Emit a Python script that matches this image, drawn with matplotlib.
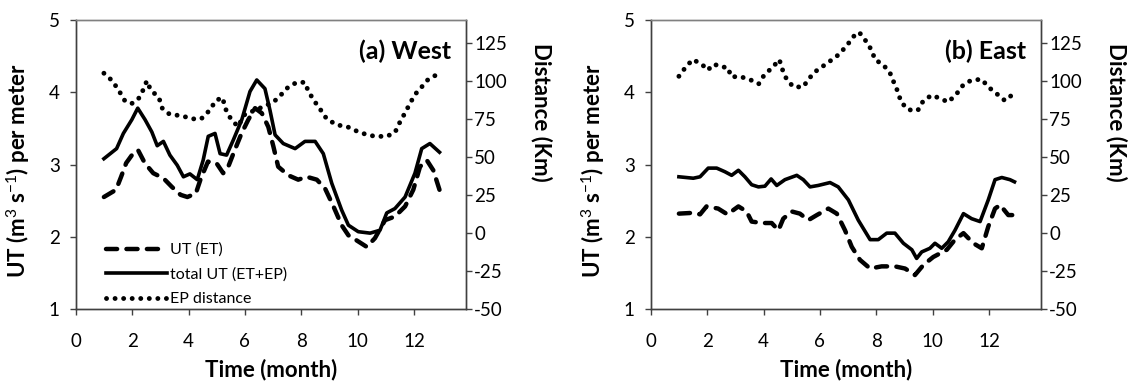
import numpy as np
import matplotlib
matplotlib.use("Agg")
import matplotlib.pyplot as plt

plt.rcParams["font.family"] = ["Lato", "DejaVu Sans"]
plt.rcParams["mathtext.fontset"] = "custom"
plt.rcParams["mathtext.rm"] = "Lato"
plt.rcParams["mathtext.bf"] = "Lato:bold"
plt.rcParams["axes.unicode_minus"] = False

# --- DATA ---
# (a) West
west_ut_month = [1.0, 1.43, 1.61, 1.79, 2.03, 2.21, 2.45, 2.75, 3.11, 3.41, 3.72, 3.96,
                 4.26, 4.44, 4.69, 4.99, 5.23, 5.41, 5.64, 5.88, 6.12, 6.36, 6.60, 6.83,
                 7.01, 7.18, 7.54, 7.89, 8.19, 8.55, 8.84, 9.14, 9.43, 9.67, 9.96, 10.32,
                 10.61, 10.97, 11.32, 11.68, 11.97, 12.21, 12.45, 12.68, 12.9]
west_ut = [2.55, 2.65, 2.83, 3.02, 3.15, 3.20, 3.02, 2.88, 2.81, 2.69, 2.58, 2.55,
           2.60, 2.81, 3.04, 3.02, 2.88, 2.97, 3.20, 3.43, 3.62, 3.78, 3.71, 3.52,
           3.25, 2.97, 2.85, 2.79, 2.83, 2.79, 2.67, 2.42, 2.16, 2.02, 1.95, 1.86,
           1.98, 2.23, 2.28, 2.42, 2.65, 2.97, 3.06, 2.92, 2.65]

west_total_month = [1.0, 1.45, 1.69, 1.99, 2.20, 2.46, 2.70, 2.89, 3.11, 3.34, 3.60, 3.82,
                    4.05, 4.31, 4.52, 4.70, 4.94, 5.12, 5.35, 5.59, 5.89, 6.18, 6.42, 6.71,
                    6.89, 7.07, 7.36, 7.78, 8.13, 8.49, 8.78, 9.08, 9.43, 9.67, 10.02, 10.44,
                    10.79, 11.03, 11.32, 11.68, 12.03, 12.27, 12.56, 12.9]
west_total = [3.08, 3.22, 3.43, 3.62, 3.78, 3.62, 3.45, 3.26, 3.32, 3.13, 2.99, 2.83,
              2.87, 2.79, 3.06, 3.39, 3.43, 3.15, 3.13, 3.34, 3.62, 4.01, 4.17, 4.05,
              3.75, 3.41, 3.29, 3.22, 3.32, 3.32, 3.15, 2.74, 2.37, 2.16, 2.07, 2.05,
              2.09, 2.33, 2.39, 2.55, 2.88, 3.22, 3.29, 3.17]

west_ep_month = [1.0, 1.3, 1.55, 1.74, 1.98, 2.22, 2.42, 2.52, 2.66, 2.95, 3.07, 3.33,
                 3.76, 4.14, 4.45, 4.77, 4.96, 5.21, 5.3, 5.5, 5.75, 6.0, 6.4, 6.77,
                 7.01, 7.24, 7.54, 7.84, 8.13, 8.25, 8.49, 8.72, 8.90, 9.26, 9.61, 9.96,
                 10.26, 10.61, 11.03, 11.32, 11.50, 11.68, 11.85, 12.03, 12.27, 12.50, 12.9]
west_ep = [105, 100, 93, 87, 85, 88, 95, 100, 94, 89, 82, 78,
           77, 75, 75, 81, 87, 89, 82, 75, 70, 78, 81, 84,
           86, 90, 96, 99, 99, 93, 86, 80, 75, 71, 70, 67,
           65, 63.5, 63.5, 66, 73, 79, 85, 91, 96, 101, 105]

# (b) East
east_ut_month = [1.0, 1.45, 1.75, 1.98, 2.39, 2.72, 3.11, 3.40, 3.58, 3.94, 4.29, 4.53,
                 4.70, 5.0, 5.29, 5.59, 5.89, 6.30, 6.60, 6.89, 7.13, 7.42, 7.78, 8.19,
                 8.66, 9.02, 9.37, 9.67, 10.02, 10.50, 10.79, 11.09, 11.44, 11.74, 11.97,
                 12.21, 12.39, 12.68, 12.9]
east_ut = [2.32, 2.33, 2.31, 2.42, 2.39, 2.31, 2.42, 2.35, 2.21, 2.19, 2.19, 2.09,
           2.25, 2.35, 2.32, 2.23, 2.30, 2.39, 2.32, 2.09, 1.86, 1.68, 1.56, 1.59,
           1.59, 1.56, 1.47, 1.61, 1.72, 1.82, 1.96, 2.05, 1.91, 1.84, 2.14,
           2.39, 2.44, 2.30, 2.30]

east_total_month = [1.0, 1.51, 1.75, 2.04, 2.34, 2.63, 2.87, 3.11, 3.34, 3.58, 3.82, 4.05,
                    4.27, 4.47, 4.76, 5.18, 5.41, 5.65, 5.94, 6.36, 6.65, 7.01, 7.36, 7.78,
                    8.07, 8.37, 8.66, 8.96, 9.26, 9.43, 9.61, 9.90, 10.08, 10.32, 10.55,
                    10.79, 11.09, 11.38, 11.68, 11.97, 12.21, 12.45, 12.74, 12.9]
east_total = [2.83, 2.81, 2.83, 2.95, 2.95, 2.90, 2.85, 2.92, 2.83, 2.72, 2.69, 2.70,
              2.80, 2.71, 2.79, 2.85, 2.79, 2.69, 2.71, 2.75, 2.69, 2.51, 2.23, 1.96,
              1.96, 2.05, 2.05, 1.91, 1.82, 1.70, 1.79, 1.84, 1.91, 1.84, 1.93,
              2.09, 2.32, 2.25, 2.21, 2.51, 2.79, 2.82, 2.79, 2.76]

east_ep_month = [1.0, 1.24, 1.49, 1.81, 2.02, 2.24, 2.52, 2.72, 2.87, 3.13, 3.50, 3.83,
                 4.03, 4.33, 4.56, 4.68, 4.82, 5.06, 5.41, 5.59, 5.83, 6.06, 6.36, 6.65,
                 6.95, 7.18, 7.39, 7.60, 7.84, 7.95, 8.25, 8.49, 8.60, 8.76, 8.88, 9.13,
                 9.47, 9.67, 9.96, 10.26, 10.55, 10.85, 11.09, 11.38, 11.74, 11.97, 12.27,
                 12.56, 12.9]
east_ep = [103, 109, 114, 111, 107, 111, 109, 109, 102.5, 103, 101, 98,
           104, 109, 114, 107, 101, 96, 96, 101, 106, 109, 113, 117,
           123, 129, 132, 127, 120, 114, 110.5, 105, 100, 93, 86, 81,
           80.5, 87, 90.5, 88.5, 86, 91.5, 97.5, 100.5, 101, 96, 91.5,
           87, 92]

panels = [
    ("(a) West", west_ut_month, west_ut, west_total_month, west_total, west_ep_month, west_ep),
    ("(b) East", east_ut_month, east_ut, east_total_month, east_total, east_ep_month, east_ep),
]

# --- FIGURE ---
fig = plt.figure(figsize=(11.39, 3.83), dpi=100)
lefts = [75.7 / 1139, 650.7 / 1139]
axis_col = "#404040"

for i, (title, m1, ut, m2, tot, m3, ep) in enumerate(panels):
    ax = fig.add_axes([lefts[i], 74 / 383, 390.3 / 1139, 289 / 383])
    ax2 = ax.twinx()

    l1, = ax.plot(m1, ut, color="black", lw=3.2, linestyle=(0, (2.5, 2.1)),
                  dash_capstyle="round", solid_joinstyle="round", label="UT (ET)")
    l2, = ax.plot(m2, tot, color="black", lw=2.6, solid_joinstyle="round",
                  label="total UT (ET+EP)")
    l3, = ax2.plot(m3, ep, color="black", lw=3.5, linestyle=(0, (0.01, 1.75)),
                   dash_capstyle="round", label="EP distance")

    ax.set_xlim(0, 13.84)
    ax.set_ylim(1, 5)
    ax.set_xticks([0, 2, 4, 6, 8, 10, 12])
    ax.set_yticks([1, 2, 3, 4, 5])
    ax2.set_ylim(-50, 140)
    ax2.set_yticks(np.arange(-50, 126, 25))

    for a in (ax, ax2):
        for s in a.spines.values():
            s.set_color(axis_col)
            s.set_linewidth(1.0)
        a.tick_params(direction="out", length=4.5, width=1.0, color=axis_col,
                      labelsize=13.5)
    ax.spines["top"].set_color("#808080")
    ax2.spines["top"].set_color("#808080")
    ax.tick_params(axis="x", pad=13)
    ax.tick_params(axis="y", pad=7)
    ax2.tick_params(axis="y", pad=1.5)

    ax.set_xlabel("Time (month)", fontsize=16, fontweight="bold", labelpad=6)
    ax.set_ylabel(r"UT (m$^{3}$ s$^{-1}$) per meter", fontsize=16, fontweight="bold")
    ax.yaxis.set_label_coords(-0.112, 0.477)
    ax2.set_ylabel("Distance (Km)", fontsize=16, fontweight="bold", rotation=270)
    ax2.yaxis.set_label_coords(1.222, 0.68)

    ax.text(0.963, 0.89, title, transform=ax.transAxes, ha="right", va="center",
            fontsize=18, fontweight="bold")

    if i == 0:
        ax.legend([l1, l2, l3], ["UT (ET)", "total UT (ET+EP)", "EP distance"],
                  loc="lower left", bbox_to_anchor=(0.05, -0.03), frameon=False,
                  fontsize=11.5, handlelength=3.8, handletextpad=0.2,
                  labelspacing=0.65, borderpad=0.2)

fig.savefig("out.png", dpi=100)
